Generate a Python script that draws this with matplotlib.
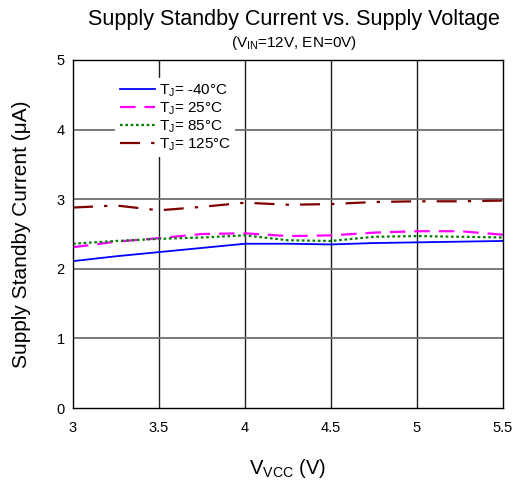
import matplotlib
matplotlib.use("Agg")
import matplotlib.pyplot as plt

plt.rcParams['font.family'] = ['Liberation Sans', 'DejaVu Sans']
plt.rcParams['mathtext.default'] = 'regular'

# supply voltage (V)
vcc = [3.0, 3.25, 3.5, 3.75, 4.0, 4.25, 4.5, 4.75, 5.0, 5.25, 5.5]

# standby current (uA) per junction temperature
i_m40 = [2.11, 2.18, 2.24, 2.30, 2.36, 2.36, 2.35, 2.37, 2.38, 2.39, 2.40]
i_25 = [2.31, 2.39, 2.44, 2.50, 2.51, 2.47, 2.48, 2.52, 2.54, 2.54, 2.49]
i_85 = [2.36, 2.40, 2.43, 2.45, 2.48, 2.41, 2.40, 2.46, 2.47, 2.46, 2.45]
i_125 = [2.88, 2.91, 2.84, 2.89, 2.95, 2.92, 2.93, 2.96, 2.97, 2.97, 2.98]

labels = ['T$_J$= -40°C', 'T$_J$= 25°C', 'T$_J$= 85°C', 'T$_J$= 125°C']

fig = plt.figure(figsize=(5.19, 4.83), dpi=100)
ax = fig.add_axes([73/519, 1-408/483, 430/519, 348/483])

ax.plot(vcc, i_m40, color='#0000ff', lw=1.3, label=labels[0])
ax.plot(vcc, i_25, color='#ff00ff', lw=1.6, dashes=(7, 4), label=labels[1])
ax.plot(vcc, i_85, color='#008000', lw=1.6, dashes=(1.2, 1.2), label=labels[2])
ax.plot(vcc, i_125, color='#800000', lw=1.6, dashes=(9, 5, 1.5, 5), label=labels[3])

ax.set_xlim(3, 5.5)
ax.set_ylim(0, 5)
ax.set_xticks([3, 3.5, 4, 4.5, 5, 5.5])
ax.set_xticklabels(['3', '3.5', '4', '4.5', '5', '5.5'])
ax.set_yticks([0, 1, 2, 3, 4, 5])

# gridlines: vertical dark, horizontal gray
for xv in [3.5, 4, 4.5, 5]:
    ax.axvline(xv, color='#202020', lw=1.0, zorder=0)
for yv in [1, 2, 3, 4]:
    ax.axhline(yv, color='#707070', lw=1.3, zorder=0)

for s in ax.spines.values():
    s.set_color('black')
    s.set_linewidth(1.0)
ax.tick_params(length=0, labelsize=10.5, pad=6)
ax.tick_params(axis='x', pad=9)

ax.set_ylabel('Supply Standby Current (μA)', fontsize=15, labelpad=18)
ax.set_xlabel('V$_{VCC}$ (V)', fontsize=14.5, labelpad=16)

fig.text(294/519, 1-19/483, 'Supply Standby Current vs. Supply Voltage', ha='center', va='center', fontsize=15.5)
fig.text(294/519, 1-43/483, '(V$_{IN}$=12V, EN=0V)', ha='center', va='center', fontsize=11)

leg = ax.legend(loc='upper left', bbox_to_anchor=(0.08, 0.97), fontsize=11,
                frameon=True, fancybox=False, handlelength=2.3, handletextpad=0.25,
                labelspacing=0.1, borderpad=0.3)
leg.get_frame().set_facecolor('white')
leg.get_frame().set_edgecolor('none')
leg.get_frame().set_alpha(1)

fig.savefig('out.png', dpi=100)
